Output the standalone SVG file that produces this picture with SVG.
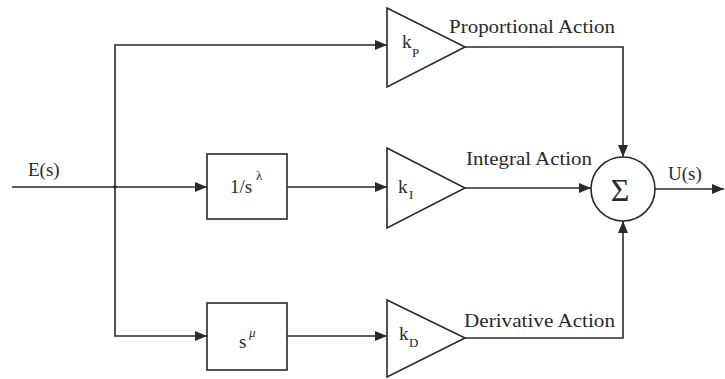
<svg xmlns="http://www.w3.org/2000/svg" width="725" height="379" viewBox="0 0 725 379">
<style>
.ln{fill:none;stroke:#2a2a2a;stroke-width:1.6}
.sh{fill:#fff;stroke:#2a2a2a;stroke-width:1.6}
.t{font-family:"Liberation Serif","Times New Roman",serif;fill:#2a2a2a;font-size:19px}
.sub{font-family:"Liberation Serif","Times New Roman",serif;fill:#2a2a2a;font-size:13px}
</style>
<defs>
<marker id="ar" viewBox="0 0 12 10" refX="12" refY="5" markerWidth="12" markerHeight="10" markerUnits="userSpaceOnUse" orient="auto">
<path d="M0,0 L12,5 L0,10 Z" fill="#2a2a2a"/>
</marker>
</defs>
<rect width="725" height="379" fill="#fff"/>
<g id="connectors">
<path class="ln" d="M12,187 H207" marker-end="url(#ar)"/>
<path class="ln" d="M115,187 V45 H387" marker-end="url(#ar)"/>
<path class="ln" d="M115,187 V336 H207" marker-end="url(#ar)"/>
<path class="ln" d="M287,187 H387" marker-end="url(#ar)"/>
<path class="ln" d="M287,336 H387" marker-end="url(#ar)"/>
<path class="ln" d="M465,47 H623 V157" marker-end="url(#ar)"/>
<path class="ln" d="M465,188 H591" marker-end="url(#ar)"/>
<path class="ln" d="M465,338 H623 V221" marker-end="url(#ar)"/>
<path class="ln" d="M655,189 H724" marker-end="url(#ar)"/>
<circle cx="115" cy="187" r="1.8" fill="#2a2a2a"/>
</g>
<g id="kp">
<path class="sh" d="M387,8 L465,47 L387,87 Z"/>
<text class="t" x="402" y="48">k</text><text class="sub" x="412" y="57">P</text>
</g>
<g id="ki">
<path class="sh" d="M387,148 L465,188 L387,228 Z"/>
<text class="t" x="398" y="193">k</text><text class="sub" x="409" y="199">I</text>
</g>
<g id="kd">
<path class="sh" d="M387,300 L465,338 L387,377 Z"/>
<text class="t" x="399" y="340">k</text><text class="sub" x="409" y="347">D</text>
</g>
<g id="integrator">
<rect class="sh" x="207" y="154" width="80" height="65"/>
<text class="t" x="230" y="193">1/s</text><text class="sub" x="256" y="180">λ</text>
</g>
<g id="derivative">
<rect class="sh" x="207" y="303" width="80" height="67"/>
<text class="t" x="239" y="348">s</text><text class="sub" x="249" y="337" style="font-style:italic">μ</text>
</g>
<g id="sum">
<circle class="sh" cx="623" cy="189" r="32"/>
<text class="t" x="620" y="201" text-anchor="middle" style="font-size:32px">Σ</text>
</g>
<g id="labels">
<text class="t" x="28" y="176">E(s)</text>
<text class="t" x="449" y="33" textLength="166" lengthAdjust="spacingAndGlyphs">Proportional Action</text>
<text class="t" x="466" y="165" textLength="126" lengthAdjust="spacingAndGlyphs">Integral Action</text>
<text class="t" x="464" y="327" textLength="151" lengthAdjust="spacingAndGlyphs">Derivative Action</text>
<text class="t" x="668" y="180">U(s)</text>
</g>
</svg>
